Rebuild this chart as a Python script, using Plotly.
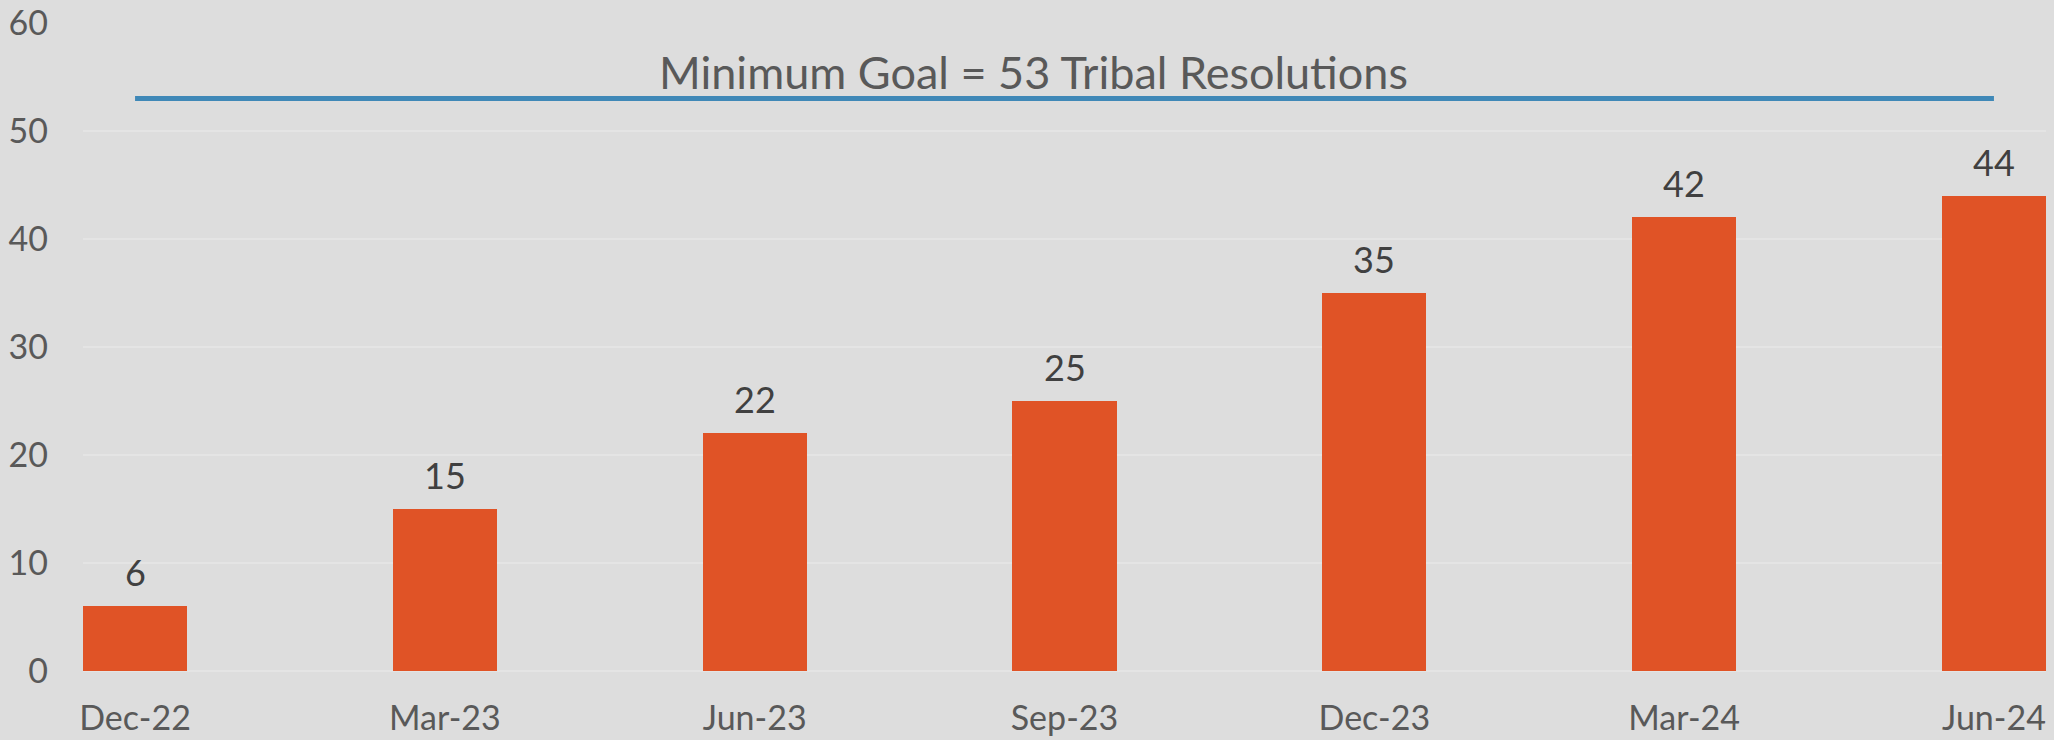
import plotly.graph_objects as go

categories = ["Dec-22", "Mar-23", "Jun-23", "Sep-23", "Dec-23", "Mar-24", "Jun-24"]
resolutions = [6, 15, 22, 25, 35, 42, 44]
goal_value = 53
goal_label = "Minimum Goal = 53 Tribal Resolutions"

FONT = "Lato, 'Open Sans', sans-serif"

fig = go.Figure()
fig.add_trace(go.Bar(
    x=categories, y=resolutions,
    marker=dict(color="#E05326", line=dict(width=0)),
    width=0.336,
    hoverinfo="skip",
))
fig.add_trace(go.Scatter(
    x=categories, y=[goal_value] * len(categories),
    mode="lines",
    line=dict(color="#3F88B7", width=5),
    hoverinfo="skip",
))
for cat, val in zip(categories, resolutions):
    fig.add_annotation(
        x=cat, y=val, xref="x", yref="y",
        text=str(val), showarrow=False,
        yanchor="bottom", yshift=10,
        font=dict(family=FONT, size=36, color="#404040"),
    )
fig.add_annotation(
    x=2.9, y=55.45, xref="x", yref="y",
    text=goal_label, showarrow=False,
    font=dict(family=FONT, size=45, color="#595959"),
)

fig.update_layout(
    width=2054, height=740,
    margin=dict(l=83, r=8, t=23, b=69, autoexpand=False),
    paper_bgcolor="#DDDDDD",
    plot_bgcolor="#DDDDDD",
    showlegend=False,
    bargap=0,
)
fig.update_xaxes(
    type="category",
    range=[-0.168, 6.168],
    showgrid=False, zeroline=False,
    showline=False,
    ticks="",
    automargin=False,
    ticklabelstandoff=24,
    tickfont=dict(family=FONT, size=34, color="#595959"),
)
fig.update_yaxes(
    range=[0, 60], dtick=10,
    showgrid=True, gridcolor="#E4E4E4", gridwidth=2,
    zeroline=True, zerolinecolor="#E4E4E4", zerolinewidth=2,
    showline=False, ticks="",
    automargin=False,
    ticklabelstandoff=34,
    tickfont=dict(family=FONT, size=34, color="#595959"),
)

fig.write_html(
    "out.html",
    config={"displayModeBar": False},
    post_script="document.body.style.margin='0';document.body.style.background='#DDDDDD';",
)
